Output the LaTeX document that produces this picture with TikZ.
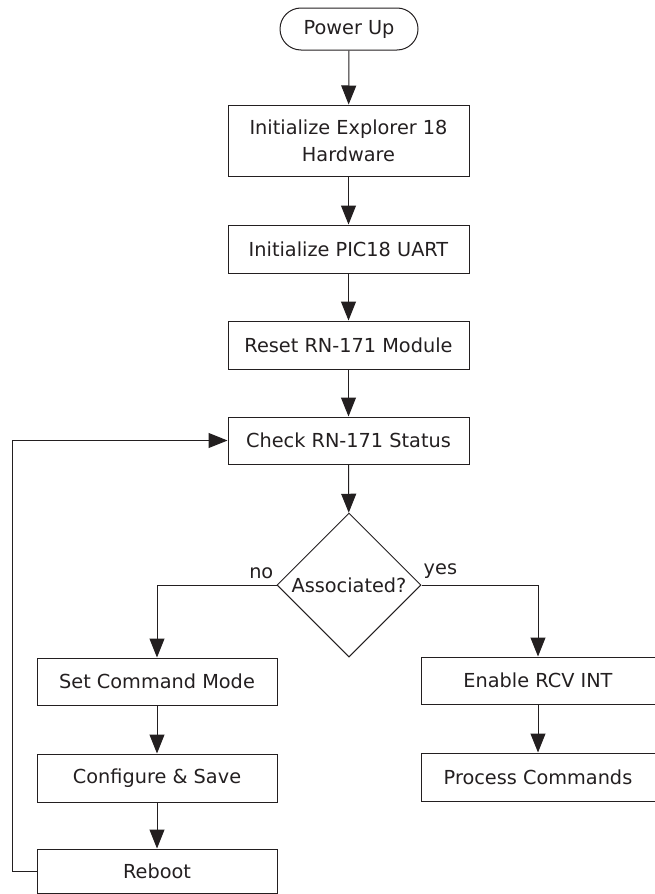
\documentclass[tikz,border=0pt]{standalone}
\usepackage{fontspec}
\setmainfont{DejaVu Sans}
\usetikzlibrary{arrows.meta, shapes, positioning}
\usepackage{xcolor}
\definecolor{inkblack}{RGB}{35,31,32}
\tikzset{stepbox/.style={rectangle, draw=inkblack, line width=1pt, minimum width=241pt, minimum height=47pt, inner sep=0pt, align=center, text=inkblack},
termbox/.style={rounded rectangle, draw=inkblack, line width=1pt, minimum width=138pt, minimum height=42pt, inner sep=0pt, text=inkblack},
decisionbox/.style={diamond, draw=inkblack, line width=1pt, aspect=1, minimum size=144pt, inner sep=0pt, text=inkblack},
flowline/.style={draw=inkblack, line width=1pt, -{Triangle[length=19pt, width=15pt]}}}

\begin{document}
\begin{tikzpicture}[
                font=\fontsize{19.3}{27}\selectfont,
                branchlabel/.style={inner sep=0pt, text=inkblack}
            ]
                \useasboundingbox (0pt, 0pt) rectangle (655pt, -894pt);

                % Main column
                \node[termbox] (powerup) at (349pt, -29pt) {Power Up};
                \node[stepbox, minimum height=71pt] (inithw) at (348.5pt, -140.5pt) {Initialize Explorer 18\\Hardware};
                \node[stepbox, minimum height=48pt] (inituart) at (348.5pt, -249pt) {Initialize PIC18 UART};
                \node[stepbox, minimum height=48pt] (resetmod) at (348.5pt, -345pt) {Reset RN-171 Module};
                \node[stepbox] (checkstat) at (348.5pt, -440.5pt) {Check RN-171 Status};
                \node[decisionbox] (assoc) at (349pt, -585pt) {Associated?};

                % Branches
                \node[stepbox, minimum width=240pt] (cmdmode) at (157pt, -681.5pt) {Set Command Mode};
                \node[stepbox, minimum width=240pt, minimum height=48pt] (config) at (157pt, -778pt) {Configure \& Save};
                \node[stepbox, minimum width=240pt, minimum height=44pt] (reboot) at (157pt, -871pt) {Reboot};
                \node[stepbox, minimum width=234pt] (rcvint) at (538pt, -680.5pt) {Enable RCV INT};
                \node[stepbox, minimum width=234pt, minimum height=48pt] (process) at (538pt, -777pt) {Process Commands};

                \node[branchlabel, anchor=south east] (nolabel) at ([xshift=-3pt, yshift=6pt]assoc.west) {no};
                \node[branchlabel, anchor=south west] (yeslabel) at ([xshift=2pt, yshift=6pt]assoc.east) {yes};

                % Connectors
                \draw[flowline] (powerup) -- (inithw);
                \draw[flowline] (inithw) -- (inituart);
                \draw[flowline] (inituart) -- (resetmod);
                \draw[flowline] (resetmod) -- (checkstat);
                \draw[flowline] (checkstat) -- (assoc);
                \draw[flowline] (assoc.west) -| (cmdmode.north);
                \draw[flowline] (cmdmode) -- (config);
                \draw[flowline] (config) -- (reboot);
                \draw[flowline] (assoc.east) -| (rcvint.north);
                \draw[flowline] (rcvint) -- (process);
                \draw[flowline] (reboot.west) -- ++(-24pt, 0pt) |- (checkstat.west);
            \end{tikzpicture}
\end{document}
